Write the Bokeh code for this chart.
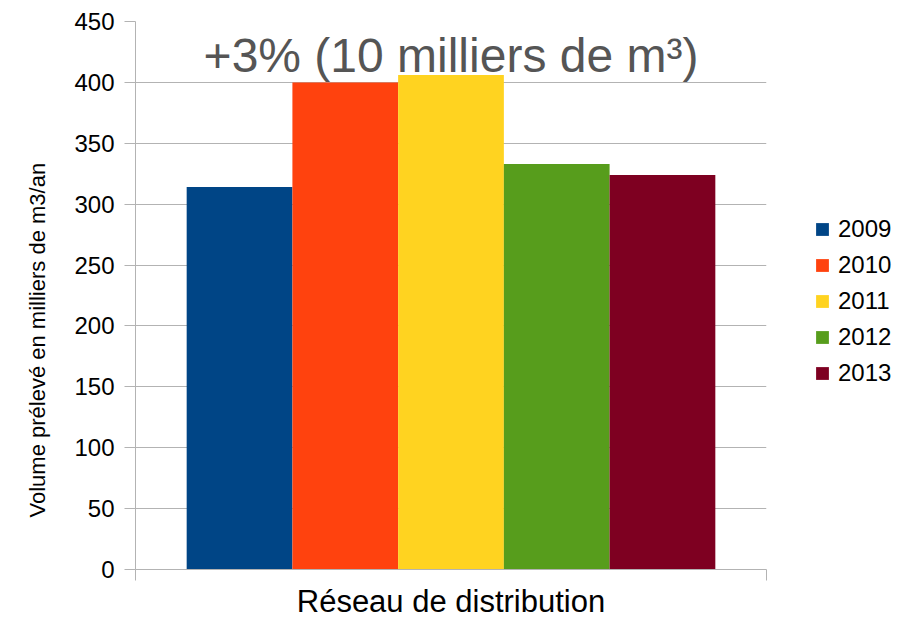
from bokeh.plotting import figure
from bokeh.models import Range1d, FixedTicker, Label, Legend, LegendItem, Title
from bokeh.embed import file_html
from bokeh.resources import INLINE

years = ["2009", "2010", "2011", "2012", "2013"]
volumes = [314, 400, 406, 333, 324]
colors = ["#004586", "#ff420e", "#ffd320", "#579d1c", "#7e0021"]
y_ticks = [0, 50, 100, 150, 200, 250, 300, 350, 400, 450]
annotation_text = "+3% (10 milliers de m³)"
annotation_y = 422
x_title = "Réseau de distribution"
y_title = "Volume prélevé en milliers de m3/an"

FONT = "Liberation Sans"
GRID = "#b3b3b3"
pad = 0.484
xs = list(range(len(years)))
x0, x1 = xs[0] - 0.5 - pad, xs[-1] + 0.5 + pad

p = figure(frame_width=631, frame_height=548, output_backend="svg", toolbar_location=None,
           x_range=Range1d(x0, x1), y_range=Range1d(y_ticks[0], y_ticks[-1]))
p.min_border_left = 135
p.min_border_right = 148
p.min_border_top = 21
p.min_border_bottom = 51
p.outline_line_color = None
p.background_fill_color = "white"
p.border_fill_color = "white"

renderers = []
for x, v, c in zip(xs, volumes, colors):
    r = p.vbar(x=[x], top=[v], width=1.0, fill_color=c, line_color=None)
    renderers.append(r)

# axes
p.xgrid.visible = False
p.ygrid.ticker = FixedTicker(ticks=y_ticks)
p.ygrid.grid_line_color = GRID

ya = p.yaxis[0]
ya.ticker = FixedTicker(ticks=y_ticks)
ya.axis_line_color = GRID
ya.major_tick_line_color = GRID
ya.major_tick_out = 11
ya.major_tick_in = 0
ya.minor_tick_line_color = None
ya.major_label_text_font = FONT
ya.major_label_text_font_size = "24px"
ya.major_label_text_color = "black"
ya.major_label_standoff = 10

ytitle = Title(text=y_title, align="left", offset=52, standoff=44, vertical_align="bottom",
               text_font=FONT, text_font_size="22px", text_font_style="normal",
               text_color="black")
p.add_layout(ytitle, "left")

xa = p.xaxis[0]
xa.ticker = FixedTicker(ticks=[x0, x1])
xa.axis_line_color = GRID
xa.major_tick_line_color = GRID
xa.major_tick_out = 11
xa.major_tick_in = 0
xa.minor_tick_line_color = None
xa.major_label_text_font_size = "1px"
xa.major_label_text_color = None
xa.major_label_standoff = 0
xa.axis_label = x_title
xa.axis_label_text_font = FONT
xa.axis_label_text_font_size = "31px"
xa.axis_label_text_font_style = "normal"
xa.axis_label_text_color = "black"
xa.axis_label_standoff = 3

p.add_layout(Label(x=(xs[0] + xs[-1]) / 2, y=annotation_y, text=annotation_text,
                   text_align="center", text_baseline="alphabetic",
                   text_font=FONT, text_font_size="48px", text_color="#555555"))

legend = Legend(items=[LegendItem(label=y, renderers=[r]) for y, r in zip(years, renderers)],
                location=(48, 182))
legend.border_line_color = None
legend.background_fill_alpha = 0
legend.padding = 0
legend.margin = 0
legend.glyph_width = 16
legend.glyph_height = 16
legend.label_height = 28
legend.spacing = 8
legend.label_standoff = 8
legend.label_text_font = FONT
legend.label_text_font_size = "24px"
legend.label_text_color = "black"
p.add_layout(legend, "right")

open("out.html", "w").write(file_html(p, INLINE))
